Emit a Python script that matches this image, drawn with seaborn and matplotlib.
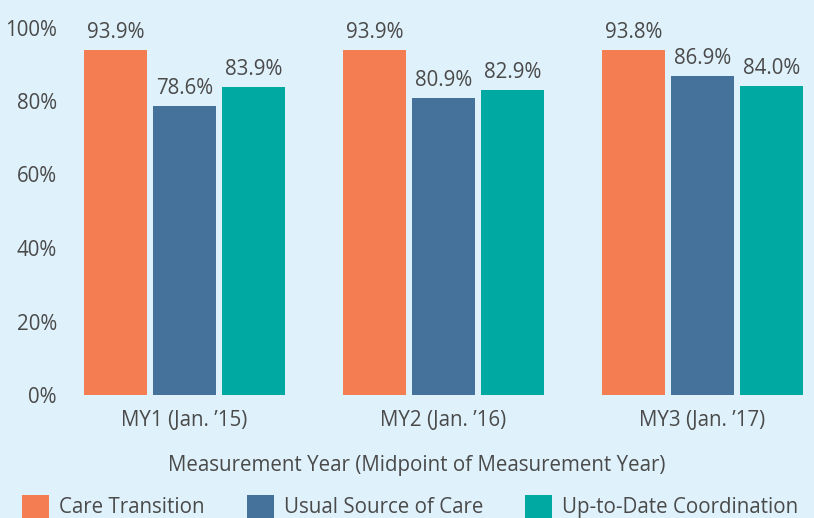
import matplotlib
matplotlib.use("Agg")
import matplotlib.pyplot as plt
import seaborn as sns
import pandas as pd
from matplotlib.patches import Patch

years = ["MY1 (Jan. \u201915)", "MY2 (Jan. \u201916)", "MY3 (Jan. \u201917)"]
series = ["Care Transition", "Usual Source of Care", "Up-to-Date Coordination"]
care_transition = [93.9, 93.9, 93.8]
usual_source = [78.6, 80.9, 86.9]
up_to_date = [83.9, 82.9, 84.0]
yticks = [0, 20, 40, 60, 80, 100]

colors = ["#f47e52", "#44729b", "#00a9a2"]
bg = "#dff1fb"
text_color = "#4a4a4a"
fs = 14.8

df = pd.DataFrame({
    "year": years * 3,
    "series": [s for s in series for _ in years],
    "value": care_transition + usual_source + up_to_date,
})

sns.set_theme(style="white")
plt.rcParams["font.family"] = ["Open Sans", "DejaVu Sans"]

fig = plt.figure(figsize=(8.14, 5.18), dpi=100, facecolor=bg)
ax = fig.add_axes([75 / 814, 123 / 518, (814 - 75) / 814, 367.5 / 518])
ax.set_facecolor(bg)

sns.barplot(data=df, x="year", y="value", hue="series", order=years,
            hue_order=series, palette=colors, width=0.8, gap=0.087,
            saturation=1, linewidth=0, ax=ax, legend=False)

for cont in ax.containers:
    ax.bar_label(cont, fmt="%.1f%%", padding=5, fontsize=fs,
                 color=text_color, clip_on=False)

ax.set_ylim(0, 100)
ax.set_xlim(-(184.5 - 75) / 259, 2 + (814 - 702.5) / 259)
ax.set_yticks(yticks)
ax.set_yticklabels([f"{t}%" for t in yticks])
ax.tick_params(axis="y", length=0, pad=13, labelsize=fs, labelcolor=text_color)
ax.tick_params(axis="x", length=0, pad=11, labelsize=fs, labelcolor=text_color)
ax.set_xlabel("Measurement Year (Midpoint of Measurement Year)", fontsize=fs,
              color=text_color)
ax.xaxis.set_label_coords((416.5 - 75) / 739, -(466 - 395) / 367.5)
ax.xaxis.label.set_va("center")
ax.set_ylabel("")
for sp in ax.spines.values():
    sp.set_visible(False)

handles = [Patch(facecolor=c, edgecolor="none") for c in colors]
fig.legend(handles, series, loc="upper left", bbox_to_anchor=(14 / 814, 1 - 487 / 518),
           ncol=3, frameon=False, fontsize=fs, labelcolor=text_color,
           handlelength=1.3, handleheight=1.3, handletextpad=0.5,
           columnspacing=2.05, borderaxespad=0)

fig.savefig("out.png", dpi=100, facecolor=bg)
